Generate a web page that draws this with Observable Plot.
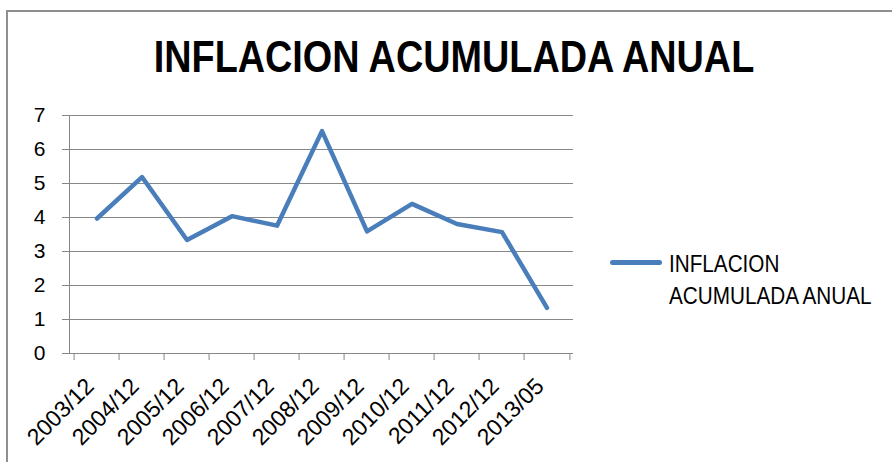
<!DOCTYPE html>
<html>
<head>
<meta charset="utf-8">
<script src="https://cdn.jsdelivr.net/npm/d3@7"></script>
<script src="https://cdn.jsdelivr.net/npm/@observablehq/plot@0.6"></script>
<style>
  html, body { margin: 0; padding: 0; background: #fff; }
  #wrap { position: relative; width: 892px; height: 462px; overflow: hidden; font-family: "Liberation Sans", Arial, sans-serif; }
  #border { position: absolute; left: 6px; top: 10px; width: 900px; height: 470px; border: 2px solid #8f8f8f; box-sizing: border-box; }
  #title { position: absolute; left: 0; width: 908px; top: 34px; text-align: center; font-size: 45px; line-height: 45px; font-weight: bold; color: #000; white-space: nowrap; transform: scaleX(0.84); transform-origin: 454px 0; }
  #legend-line { position: absolute; left: 610px; top: 260px; width: 52px; height: 5px; background: #4A7EBB; border-radius: 2.5px; }
  #legend-text { position: absolute; left: 669px; top: 248px; font-size: 23px; line-height: 32px; color: #000; white-space: nowrap; transform: scaleX(0.9); transform-origin: 0 0; }
  #chart { position: absolute; left: 0; top: 0; }
</style>
</head>
<body>
<div id="wrap">
  <div id="border"></div>
  <div id="chart"></div>
  <div id="title"></div>
  <div id="legend-line"></div>
  <div id="legend-text"></div>
</div>
<script>
const titleText = "INFLACION ACUMULADA ANUAL";
const seriesName = "INFLACION ACUMULADA ANUAL";
const categories = ["2003/12", "2004/12", "2005/12", "2006/12", "2007/12", "2008/12", "2009/12", "2010/12", "2011/12", "2012/12", "2013/05"];
const values = [3.97, 5.19, 3.34, 4.04, 3.76, 6.54, 3.59, 4.40, 3.81, 3.57, 1.34];
const yTicks = [0, 1, 2, 3, 4, 5, 6, 7];

const data = categories.map((c, i) => ({cat: c, val: values[i]}));

const W = 892, H = 462;
const mL = 69, mR = 319, mT = 115, mB = 109;
const bw = (W - mL - mR) / categories.length;
const gray = "#878787";

const chart = Plot.plot({
  width: W,
  height: H,
  marginLeft: mL,
  marginRight: mR,
  marginTop: mT,
  marginBottom: mB,
  style: {fontFamily: "'Liberation Sans', Arial, sans-serif", background: "transparent", color: "#000", overflow: "visible"},
  x: {type: "band", domain: categories, padding: 0, label: null},
  y: {domain: [0, 7], label: null},
  marks: [
    Plot.ruleY(yTicks, {stroke: gray, strokeWidth: 1}),
    Plot.frame({anchor: "left", stroke: gray, strokeWidth: 1}),
    Plot.ruleX(categories, {x: d => d, y1: 0, y2: 0, insetBottom: -7, dx: -bw / 2, stroke: gray, strokeWidth: 1}),
    Plot.ruleX(categories.slice(-1), {x: d => d, y1: 0, y2: 0, insetBottom: -7, dx: bw / 2, stroke: gray, strokeWidth: 1}),
    Plot.axisY({ticks: yTicks, tickSize: 7, tickPadding: 17, stroke: gray, fill: "#000", fontSize: 21, label: null, tickFormat: d => String(d)}),
    Plot.axisX({tickSize: 0, tickRotate: -45, tickPadding: 29, dx: -7, fill: "#000", fontSize: 23, label: null}),
    Plot.line(data, {x: "cat", y: "val", stroke: "#4A7EBB", strokeWidth: 4.5, strokeLinejoin: "round", strokeLinecap: "round"})
  ]
});
document.getElementById("chart").appendChild(chart);
document.getElementById("title").textContent = titleText;
const words = seriesName.split(" ");
document.getElementById("legend-text").innerHTML = words[0] + "<br>" + words.slice(1).join(" ");
</script>
</body>
</html>
